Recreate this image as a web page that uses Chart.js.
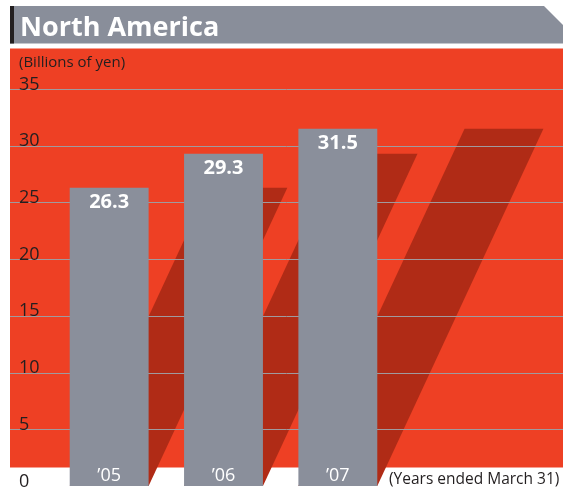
<!DOCTYPE html>
<html>
<head>
<meta charset="utf-8">
<script src="https://cdn.jsdelivr.net/npm/chart.js@4.4.1/dist/chart.umd.min.js"></script>
<style>
  html, body { margin: 0; padding: 0; background: #ffffff; }
  #wrap { position: relative; width: 563px; height: 490px; overflow: hidden; }
  #chart { position: absolute; left: 0; top: 0; }
</style>
</head>
<body>
<div id="wrap">
  <canvas id="chart" width="563" height="490"></canvas>
</div>
<script>
// Net sales, North America
const years = ['\u201905', '\u201906', '\u201907'];
const sales = [26.3, 29.3, 31.5];
const yTicks = [0, 5, 10, 15, 20, 25, 30, 35];

const title = 'North America';
const unitLabel = '(Billions of yen)';
const periodLabel = '(Years ended March 31)';

const RED = '#ee4024';
const SHADOW = '#b02b16';
const BAR_GRAY = '#8a8f9b';
const INK = '#231f20';
const FONT = '"Open Sans", "Noto Sans", sans-serif';

/**
 * Header band, red panel, slanted bar shadows and grid lines.
 * Everything here sits underneath the bars.
 */
const backdropPlugin = {
  id: 'backdrop',
  beforeDatasetsDraw(chart) {
    const ctx = chart.ctx;
    const y = chart.scales.y;
    const W = chart.width;

    ctx.save();
    // header band with clipped top-right corner
    ctx.fillStyle = '#898e9a';
    ctx.beginPath();
    ctx.moveTo(10, 6);
    ctx.lineTo(544, 6);
    ctx.lineTo(W, 25);
    ctx.lineTo(W, 43.5);
    ctx.lineTo(10, 43.5);
    ctx.closePath();
    ctx.fill();
    ctx.fillStyle = INK;
    ctx.fillRect(10, 6, 4, 37.5);

    ctx.fillStyle = '#ffffff';
    ctx.font = 'bold 27px ' + FONT;
    ctx.textBaseline = 'alphabetic';
    ctx.textAlign = 'left';
    ctx.fillText(title, 20, 36);

    // red panel
    ctx.fillStyle = RED;
    ctx.fillRect(10, 48.5, W - 10, 419);

    // slanted shadows, one per bar
    const k = 0.465;
    ctx.fillStyle = SHADOW;
    chart.getDatasetMeta(0).data.forEach(bar => {
      const half = bar.width / 2;
      const shift = k * (bar.base - bar.y);
      ctx.beginPath();
      ctx.moveTo(bar.x - half, bar.base);
      ctx.lineTo(bar.x + half, bar.base);
      ctx.lineTo(bar.x + half + shift, bar.y);
      ctx.lineTo(bar.x - half + shift, bar.y);
      ctx.closePath();
      ctx.fill();
    });

    // grid lines across the whole panel
    ctx.strokeStyle = '#a09a9e';
    ctx.lineWidth = 1;
    yTicks.forEach(v => {
      if (v === 0) return;
      const py = Math.round(y.getPixelForValue(v)) + 0.5;
      ctx.beginPath();
      ctx.moveTo(10, py);
      ctx.lineTo(W, py);
      ctx.stroke();
    });

    // unit caption and tick numbers
    ctx.fillStyle = INK;
    ctx.font = '15px ' + FONT;
    ctx.fillText(unitLabel, 19, 67);
    ctx.font = '18px ' + FONT;
    yTicks.forEach(v => {
      ctx.fillText(String(v), 19, y.getPixelForValue(v) + 0.5);
    });
    ctx.restore();
  }
};

/**
 * Value labels at the top of each bar, year labels at the bottom,
 * and the period note to the right.
 */
const labelPlugin = {
  id: 'labels',
  afterDatasetsDraw(chart) {
    const ctx = chart.ctx;
    const xs = chart.scales.x;
    const meta = chart.getDatasetMeta(0);
    ctx.save();
    ctx.fillStyle = '#ffffff';
    ctx.textAlign = 'center';
    ctx.textBaseline = 'middle';
    ctx.font = 'bold 20px ' + FONT;
    meta.data.forEach((bar, i) => {
      ctx.fillText(sales[i].toFixed(1), bar.x, bar.y + 15);
    });
    ctx.font = '18px ' + FONT;
    years.forEach((yr, i) => {
      ctx.fillText(yr, xs.getPixelForValue(i), 476);
    });
    ctx.fillStyle = INK;
    ctx.textAlign = 'left';
    ctx.textBaseline = 'alphabetic';
    ctx.font = '15.5px ' + FONT;
    ctx.fillText(periodLabel, 389, 484);
    ctx.restore();
  }
};

const ctx = document.getElementById('chart').getContext('2d');
const salesChart = new Chart(ctx, {
  type: 'bar',
  data: {
    labels: years,
    datasets: [{
      data: sales,
      backgroundColor: BAR_GRAY,
      borderWidth: 0,
      barPercentage: 0.69,
      categoryPercentage: 1
    }]
  },
  options: {
    responsive: false,
    animation: false,
    layout: { padding: { left: 52, right: 168, top: 89, bottom: 4 } },
    plugins: {
      legend: { display: false },
      tooltip: { enabled: false }
    },
    scales: {
      x: { display: false },
      y: { display: false, min: 0, max: 35 }
    }
  },
  plugins: [backdropPlugin, labelPlugin]
});
</script>
</body>
</html>
